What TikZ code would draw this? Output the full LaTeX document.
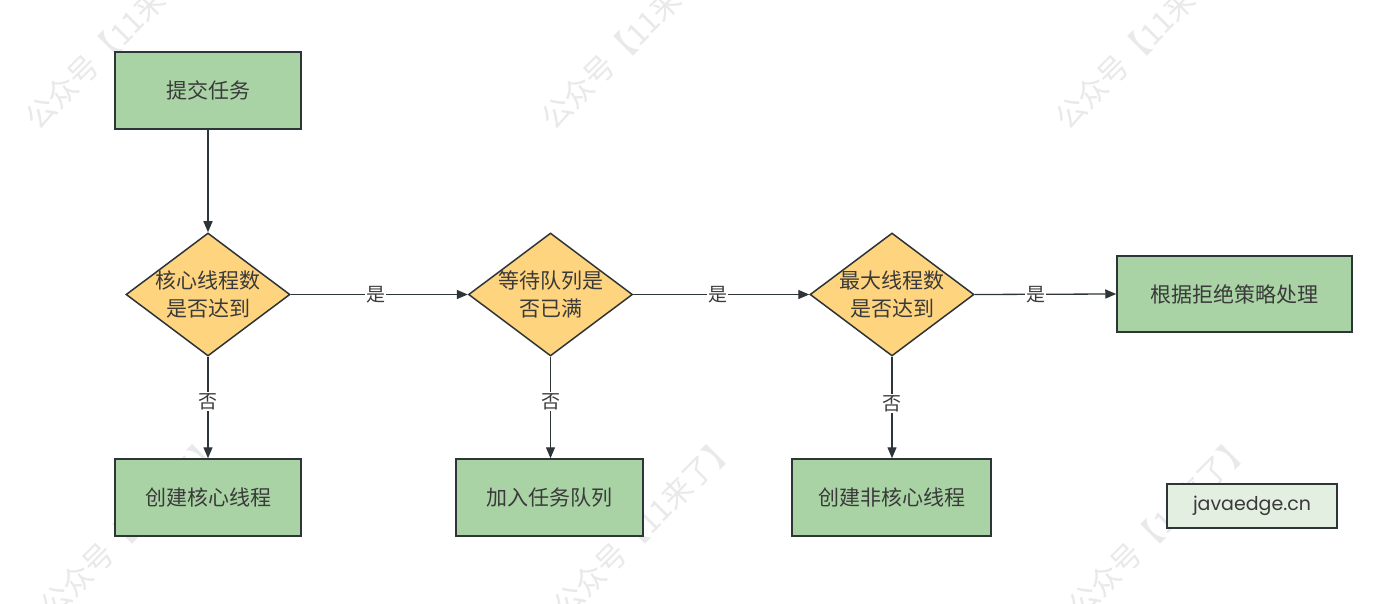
\documentclass[tikz,border=0pt]{standalone}
\usepackage{fontspec}
\setmainfont{Noto Sans CJK SC}
\newfontfamily\latinfont{Poppins}
\usetikzlibrary{shapes.geometric,arrows.meta}
\definecolor{boxgreen}{HTML}{A9D3A5}
\definecolor{diayellow}{HTML}{FFD47F}
\definecolor{edgedark}{HTML}{2E3538}
\definecolor{txtgray}{HTML}{3A3A3A}
\definecolor{tagfill}{HTML}{E3EFE1}
\definecolor{wmgray}{HTML}{E9E9E9}
\tikzset{
  procbox/.style={draw=edgedark, line width=1.5pt, fill=boxgreen, minimum height=77pt, inner sep=0pt, text=txtgray, font=\fontsize{21}{28}\selectfont},
  decbox/.style={draw=edgedark, line width=1.5pt, fill=diayellow, diamond, minimum width=164pt, minimum height=123pt, inner sep=0pt},
  dectext/.style={text=txtgray, font=\fontsize{21}{28}\selectfont, align=center},
  flow/.style={draw=edgedark, line width=1.3pt, -{Triangle[length=11pt,width=9pt]}},
  edgelab/.style={fill=white, text=txtgray, font=\fontsize{19}{20}\selectfont, inner sep=1pt},
  wmark/.style={text=wmgray, font=\fontsize{30}{30}\selectfont, rotate=45, anchor=south west, inner sep=0pt},
  tagbox/.style={draw=edgedark, line width=1.5pt, fill=tagfill, minimum width=170pt, minimum height=44pt, inner sep=0pt, text=txtgray, font=\latinfont\fontsize{19}{22}\selectfont}
}
\begin{document}
\begin{tikzpicture}[x=1pt,y=-1pt]
\useasboundingbox (0,0) rectangle (1393,604);
\fill[white] (0,0) rectangle (1393,604);
\begin{scope}
\clip (0,0) rectangle (1393,604);
\node[wmark] (wm1) at (40,134) {公众号【11来了】};
\node[wmark] (wm2) at (556,134) {公众号【11来了】};
\node[wmark] (wm3) at (1070,134) {公众号【11来了】};
\node[wmark] (wm4) at (55,622) {公众号【11来了】};
\node[wmark] (wm5) at (568,622) {公众号【11来了】};
\node[wmark] (wm6) at (1083,622) {公众号【11来了】};
\end{scope}

\node[procbox, minimum width=186pt] (submit) at (208,90.5) {提交任务};
\node[decbox, label={[dectext]center:核心线程数\\是否达到}] (d1) at (208,294.5) {};
\node[decbox, label={[dectext]center:等待队列是\\否已满}] (d2) at (550.5,294.5) {};
\node[decbox, label={[dectext]center:最大线程数\\是否达到}] (d3) at (892,294.5) {};
\node[procbox, minimum width=235pt, minimum height=76pt] (reject) at (1234.5,294) {根据拒绝策略处理};
\node[procbox, minimum width=186pt] (core) at (208,497.5) {创建核心线程};
\node[procbox, minimum width=187pt] (queue) at (549.5,497.5) {加入任务队列};
\node[procbox, minimum width=199pt] (noncore) at (891.5,497.5) {创建非核心线程};
\node[tagbox] (tag) at (1252,506) {javaedge.cn};

\draw[flow] (submit.south) -- (d1.north);
\draw[flow] (d1.east) -- node[edgelab, pos=0.48] {是} (d2.west);
\draw[flow] (d2.east) -- node[edgelab, pos=0.48] {是} (d3.west);
\draw[flow] (d3.east) -- node[edgelab, pos=0.43] {是} (reject.west);
\draw[flow] (d1.south) -- node[edgelab, pos=0.44] {否} (core.north);
\draw[flow] (d2.south) -- node[edgelab, pos=0.44] {否} (queue.north -| d2.south);
\draw[flow] (d3.south) -- node[edgelab, pos=0.46] {否} (noncore.north -| d3.south);
\end{tikzpicture}
\end{document}
